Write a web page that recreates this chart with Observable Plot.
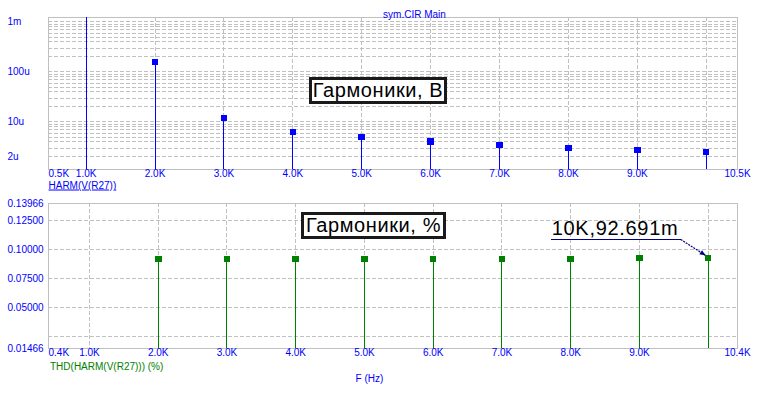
<!DOCTYPE html>
<html><head><meta charset="utf-8">
<script src="https://cdn.jsdelivr.net/npm/d3@7"></script>
<script src="https://cdn.jsdelivr.net/npm/@observablehq/plot@0.6"></script>
<style>
body{margin:0;background:#fff;}
#chart{position:relative;width:763px;height:399px;background:#fff;overflow:hidden;font-family:"Liberation Sans",Arial,sans-serif;}
#chart svg{position:absolute;left:0;top:0;background:transparent;}
#chart svg line, #chart svg rect, #chart svg path.sq{shape-rendering:crispEdges;}
.box{position:absolute;box-sizing:border-box;border:3px solid #1a1a1a;background:#fff;color:#000;font-size:20px;letter-spacing:0.6px;text-align:center;white-space:nowrap;}
</style></head>
<body><div id="chart"></div>
<script>
// ---- data ----
const harmFreq = [1000, 2000, 3000, 4000, 5000, 6000, 7000, 8000, 9000, 10000];
const harmVolt = [0.170, 157e-6, 11.9e-6, 6.25e-6, 4.97e-6, 4.07e-6, 3.44e-6, 2.99e-6, 2.73e-6, 2.49e-6];
const thdFreq = [2000, 3000, 4000, 5000, 6000, 7000, 8000, 9000, 10000];
const thdPct = [0.0919, 0.0919, 0.0919, 0.0919, 0.0919, 0.0919, 0.0919, 0.0926, 0.092691];
const xTicks = [1000, 2000, 3000, 4000, 5000, 6000, 7000, 8000, 9000, 10000];
const xTickLabels = ["1.0K","2.0K","3.0K","4.0K","5.0K","6.0K","7.0K","8.0K","9.0K"];
const topXRange = [454, 10454];
const topXRangeLabels = ["0.5K", "10.5K"];
const botXRange = [404, 10426];
const botXRangeLabels = ["0.4K", "10.4K"];
const topYRange = [1.122e-6, 1.23e-3];
const topYTicks = [1e-3, 1e-4, 1e-5, 2e-6];
const topYTickLabels = ["1m", "100u", "10u", "2u"];
const botYRange = [0.01466, 0.13966];
const botYTicks = [0.13966, 0.125, 0.1, 0.075, 0.05, 0.01466];
const botYTickLabels = ["0.13966", "0.12500", "0.10000", "0.07500", "0.05000", "0.01466"];
const botYGrid = [0.125, 0.1, 0.075, 0.05, 0.025];
const topTitle = "sym.CIR Main";
const topCurveLabel = "HARM(V(R27))";
const botCurveLabel = "THD(HARM(V(R27))) (%)";
const xLabel = "F (Hz)";
const topBoxText = "Гармоники, В";
const botBoxText = "Гармоники, %";
const annotText = "10K,92.691m";

const BLUE = "#0000ff", GREEN = "#008000", GRID = "#c0c0c0", NAVY = "#000080";
const FONT = "Liberation Sans, Arial, sans-serif";

// log minor grid values
const logGrid = [];
for (let e = -6; e <= -3; e++) for (let d = 1; d <= 9; d++) {
  const v = d * Math.pow(10, e);
  if (v > topYRange[0] && v < topYRange[1]) logGrid.push(v);
}
const harmRows = harmFreq.map((f, i) => ({f, v: harmVolt[i]}));
const thdRows = thdFreq.map((f, i) => ({f, v: thdPct[i]}));
const dash = "4,2";

const common = {width: 763, height: 399, marginLeft: 48, marginRight: 26,
  style: {background: "transparent", fontFamily: FONT, fontSize: "10px", overflow: "visible"}};

const topPlot = Plot.plot({
  ...common, marginTop: 17, marginBottom: 230,
  x: {type: "linear", domain: topXRange, axis: null},
  y: {type: "log", domain: topYRange, axis: null},
  marks: [
    Plot.ruleY(logGrid, {y: d => d, stroke: GRID, strokeDasharray: dash}),
    Plot.ruleX(xTicks, {x: d => d, stroke: GRID, strokeDasharray: dash}),
    Plot.frame({stroke: GRID}),
    Plot.ruleX(harmRows, {x: "f", y1: topYRange[0], y2: "v", stroke: BLUE, clip: true}),
    Plot.dot(harmRows, {x: "f", y: "v", symbol: "square", r: 3.7, fill: BLUE, clip: true}),
    Plot.text(xTicks.slice(0, 9), {x: d => d, text: (d, i) => xTickLabels[i], frameAnchor: "bottom", dy: 7, fill: BLUE}),
    Plot.text([topXRange[0]], {x: d => d, text: [topXRangeLabels[0]], frameAnchor: "bottom", dy: 7, textAnchor: "start", fill: BLUE}),
    Plot.text([topXRange[1]], {x: d => d, text: [topXRangeLabels[1]], frameAnchor: "bottom", dy: 7, fill: BLUE}),
    Plot.text(topYTicks, {y: d => d, text: (d, i) => topYTickLabels[i], frameAnchor: "left", dx: -41, textAnchor: "start", fill: BLUE}),
    Plot.text([topTitle], {text: d => d, frameAnchor: "top", dx: 21.5, dy: -6.5, fill: BLUE}),
    Plot.text([topCurveLabel], {text: d => d, frameAnchor: "bottom-left", dy: 19, textAnchor: "start", fill: BLUE})
  ]
});

const botPlot = Plot.plot({
  ...common, marginTop: 203, marginBottom: 51,
  x: {type: "linear", domain: botXRange, axis: null},
  y: {type: "linear", domain: botYRange, axis: null},
  marks: [
    Plot.ruleY(botYGrid, {y: d => d, stroke: GRID, strokeDasharray: dash}),
    Plot.ruleX(xTicks, {x: d => d, stroke: GRID, strokeDasharray: dash}),
    Plot.frame({stroke: GRID}),
    Plot.ruleX(thdRows, {x: "f", y1: botYRange[0], y2: "v", stroke: GREEN, clip: true}),
    Plot.dot(thdRows, {x: "f", y: "v", symbol: "square", r: 3.7, fill: GREEN, clip: true}),
    Plot.text(xTicks.slice(0, 9), {x: d => d, text: (d, i) => xTickLabels[i], frameAnchor: "bottom", dy: 7.7, fill: BLUE}),
    Plot.text([botXRange[0]], {x: d => d, text: [botXRangeLabels[0]], frameAnchor: "bottom", dy: 7.7, textAnchor: "start", fill: BLUE}),
    Plot.text([botXRange[1]], {x: d => d, text: [botXRangeLabels[1]], frameAnchor: "bottom", dy: 7.7, fill: BLUE}),
    Plot.text(botYTicks, {y: d => d, text: (d, i) => botYTickLabels[i], frameAnchor: "left", dx: -41, textAnchor: "start", fill: BLUE}),
    Plot.text([botCurveLabel], {text: d => d, frameAnchor: "bottom-left", dx: 1.5, dy: 21, textAnchor: "start", fill: GREEN}),
    Plot.text([xLabel], {text: d => d, frameAnchor: "bottom", dx: -23.5, dy: 33, fill: BLUE})
  ]
});

const chart = document.getElementById("chart");
chart.appendChild(topPlot);
chart.appendChild(botPlot);

// crisp square markers
d3.selectAll("#chart svg path").classed("sq", true);

// underline the curve label
d3.select(topPlot).selectAll("text").filter(function(){ return this.textContent === topCurveLabel; })
  .attr("text-decoration", "underline");

// annotation pointing at the 10K THD value
const sx = botPlot.scale("x"), sy = botPlot.scale("y");
const last = thdRows[thdRows.length - 1];
const px = sx.apply(last.f), py = sy.apply(last.v);
const svg = d3.select(botPlot);
const g = svg.append("g");
const uy = Math.round(py - 18.5) + 0.5;
g.append("text").attr("x", px - 156).attr("y", uy - 4.3).attr("text-anchor", "start")
  .attr("font-family", FONT).attr("font-size", 20).attr("letter-spacing", "0.7px")
  .attr("fill", "#000").text(annotText);
g.append("line").attr("x1", px - 157).attr("x2", px - 27).attr("y1", uy).attr("y2", uy)
  .attr("stroke", NAVY).attr("stroke-width", 1.3);
g.append("line").attr("x1", px - 27).attr("y1", uy).attr("x2", px - 2).attr("y2", py - 2)
  .attr("stroke", NAVY).attr("stroke-width", 1.2).attr("stroke-dasharray", "2,1")
  .style("shape-rendering", "auto");
const ang = Math.atan2((py - 2) - uy, 25);
const tipX = px - 2, tipY = py - 2, L = 6, W = 2.5;
const bx = tipX - L * Math.cos(ang), by = tipY - L * Math.sin(ang);
g.append("path").attr("d", `M${tipX},${tipY}L${bx - W * Math.sin(ang)},${by + W * Math.cos(ang)}L${bx + W * Math.sin(ang)},${by - W * Math.cos(ang)}Z`)
  .attr("fill", NAVY);

// text boxes
function addBox(text, left, top, w, h) {
  const div = document.createElement("div");
  div.className = "box";
  div.style.left = left + "px"; div.style.top = top + "px";
  div.style.width = w + "px"; div.style.height = h + "px";
  div.style.lineHeight = (h - 6) + "px";
  div.textContent = text;
  chart.appendChild(div);
}
addBox(topBoxText, 309, 77, 138, 27);
addBox(botBoxText, 301, 212, 145, 27);
</script>
</body></html>
